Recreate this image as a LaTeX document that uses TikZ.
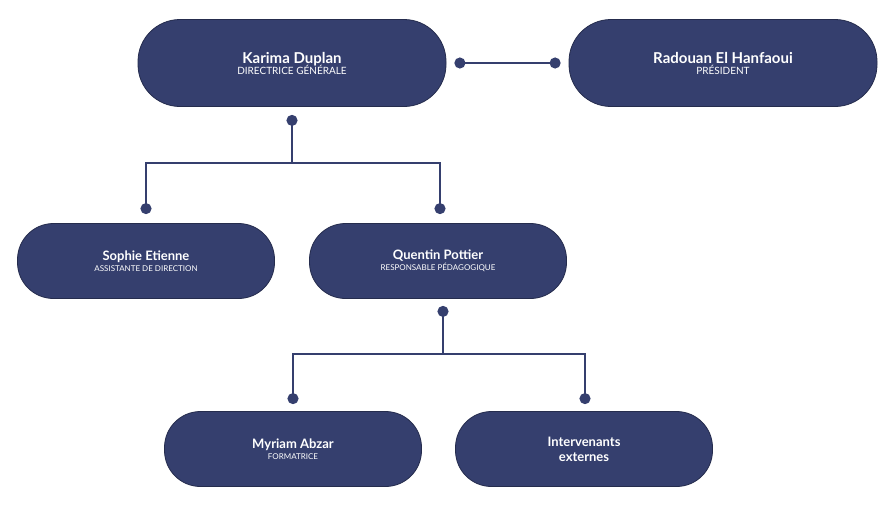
\documentclass[tikz,border=0pt]{standalone}
\usepackage{fontspec}
\setmainfont{Lato}
\usetikzlibrary{arrows.meta,positioning}
\definecolor{navy}{HTML}{353F6E}
\begin{document}
\begin{tikzpicture}[x=1pt,y=-1pt,line width=1.8pt,
  person/.style={rectangle,rounded corners=36pt,fill=navy,draw=navy!70!black,line width=0.8pt,
    text=white,align=center,minimum width=257pt,minimum height=75pt,inner sep=2pt},
  big/.style={person,minimum width=308pt,minimum height=87pt,rounded corners=42pt},
  link/.style={draw=navy,{Circle[length=11pt]}-{Circle[length=11pt]}}]
  \useasboundingbox (0,0) rectangle (896,514);

  \node[big] (karima) at (292,63) {{\bfseries\fontsize{15}{18}\selectfont Karima Duplan}\\[-1pt]{\fontsize{10}{12}\selectfont DIRECTRICE GÉNÉRALE}};
  \node[big] (radouan) at (723,63) {{\bfseries\fontsize{15}{18}\selectfont Radouan El Hanfaoui}\\[-1pt]{\fontsize{10}{12}\selectfont PRÉSIDENT}};
  \node[person] (sophie) at (146,261) {{\bfseries\fontsize{13}{16}\selectfont Sophie Etienne}\\[-1pt]{\fontsize{8}{10}\selectfont ASSISTANTE DE DIRECTION}};
  \node[person] (quentin) at (438,261) {{\bfseries\fontsize{13}{16}\selectfont Quentin Pottier}\\[-1pt]{\fontsize{8}{10}\selectfont RESPONSABLE PÉDAGOGIQUE}};
  \node[person] (myriam) at (293,449) {{\bfseries\fontsize{13}{16}\selectfont Myriam Abzar}\\[-1pt]{\fontsize{8}{10}\selectfont FORMATRICE}};
  \node[person] (interv) at (584,449) {\bfseries\fontsize{13}{16}\selectfont Intervenants\\[3pt]\bfseries\fontsize{13}{16}\selectfont externes};

  \coordinate (k1) at (292,163);
  \coordinate (q1) at (443,354);

  \draw[link,shorten <=8pt,shorten >=8pt] (karima.east) -- (radouan.west);
  \draw[link,{Circle[length=11pt]}-,shorten <=8pt] (karima.south) -- (k1);
  \draw[link,-{Circle[length=11pt]},shorten >=9pt] (k1) -| (sophie.north);
  \draw[link,-{Circle[length=11pt]},shorten >=9pt] (k1) -| ([xshift=2pt]quentin.north);
  \draw[link,{Circle[length=11pt]}-,shorten <=7pt] ([xshift=5pt]quentin.south) -- (q1);
  \draw[link,-{Circle[length=11pt]},shorten >=7pt] (q1) -| (myriam.north);
  \draw[link,-{Circle[length=11pt]},shorten >=7pt] (q1) -| ([xshift=1pt]interv.north);
\end{tikzpicture}
\end{document}
